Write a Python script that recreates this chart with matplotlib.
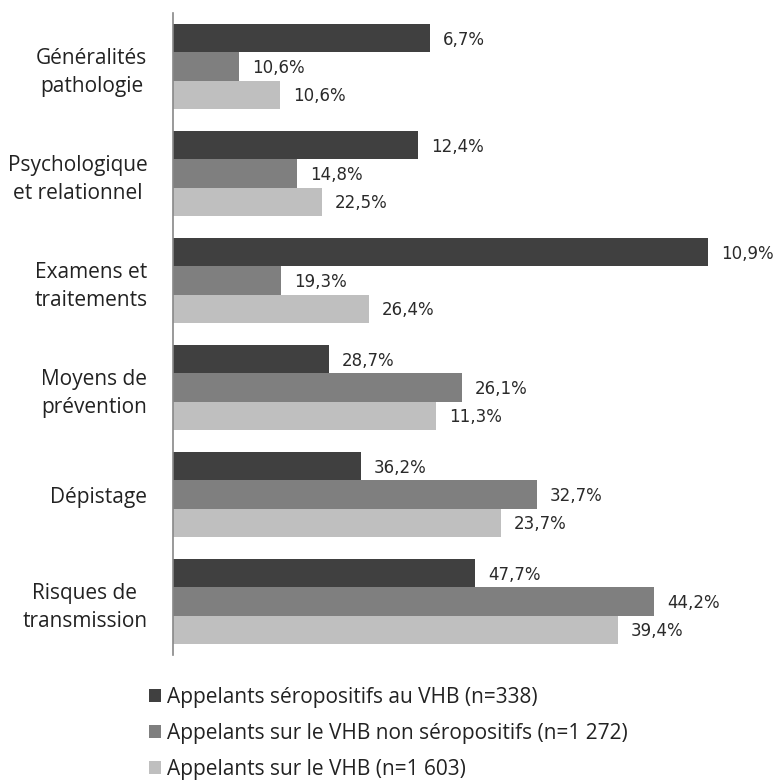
import matplotlib
matplotlib.use("Agg")
import matplotlib.pyplot as plt
import numpy as np

categories = ["Généralités\npathologie", "Psychologique\net relationnel", "Examens et\ntraitements",
              "Moyens de\nprévention", "Dépistage", "Risques de\ntransmission"]
series_names = ["Appelants séropositifs au VHB (n=338)",
                "Appelants sur le VHB non séropositifs (n=1 272)",
                "Appelants sur le VHB (n=1 603)"]
# bar lengths as drawn in the reference (arbitrary units)
len_seropos = [257, 245, 535, 156, 188, 302]
len_nonsero = [66, 124, 108, 289, 364, 481]
len_all = [107, 149, 196, 263, 328, 445]
# printed data labels
lab_seropos = ["6,7%", "12,4%", "10,9%", "28,7%", "36,2%", "47,7%"]
lab_nonsero = ["10,6%", "14,8%", "19,3%", "26,1%", "32,7%", "44,2%"]
lab_all = ["10,6%", "22,5%", "26,4%", "11,3%", "23,7%", "39,4%"]

colors = ["#404040", "#7f7f7f", "#bfbfbf"]

plt.rcParams['font.family'] = ['Open Sans', 'DejaVu Sans']
fig = plt.figure(figsize=(7.75, 7.83), dpi=100)
ax = fig.add_axes([173/775, 1-655/783, 580/775, (655-13)/783])

y = np.arange(len(categories))
h = 0.262
series = [(len_seropos, lab_seropos), (len_nonsero, lab_nonsero), (len_all, lab_all)]
handles = []
for i, ((vals, labs), c) in enumerate(zip(series, colors)):
    pos = y + (i - 1) * h
    b = ax.barh(pos, vals, height=h, color=c, label=series_names[i])
    handles.append(b)
    for p, v, l in zip(pos, vals, labs):
        ax.text(v + 13, p + 0.01, l, va='center', ha='left', fontsize=12,
                family=['DejaVu Sans'], color='#2a2a2a')

ax.set_ylim(len(categories) - 0.5, -0.5)
ax.set_xlim(0, 580)
ax.set_yticks(y)
ax.set_yticklabels(categories, fontsize=15, ma='center', color='#222222', linespacing=1.45)
ax.tick_params(axis='y', length=0, pad=18.5)
ax.set_xticks([])
for s in ['top', 'right', 'bottom']:
    ax.spines[s].set_visible(False)
ax.spines['left'].set_color('#888888')
ax.spines['left'].set_linewidth(1.2)

leg = fig.legend(handles=handles, labels=series_names, loc='upper left',
                 bbox_to_anchor=(149/775, 1-687/783), frameon=False, fontsize=15,
                 handlelength=0.58, handleheight=0.58, handletextpad=0.3,
                 labelspacing=0.72, borderaxespad=0, borderpad=0)
for t in leg.get_texts():
    t.set_color('#222222')

fig.savefig("out.png", dpi=100)
